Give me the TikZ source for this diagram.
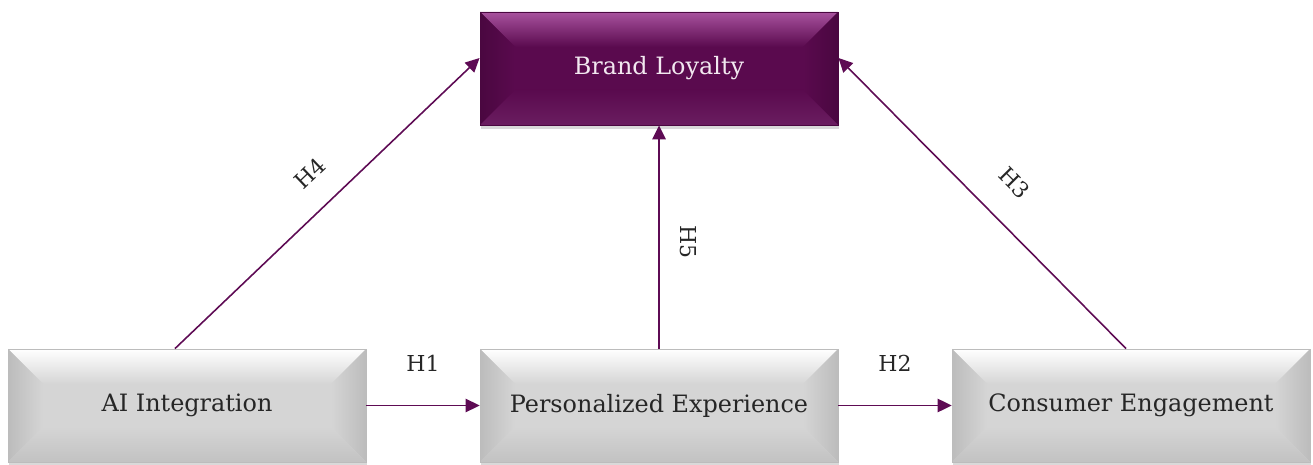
\documentclass[tikz,border=0pt]{standalone}
\usepackage{fontspec}
\setmainfont{DejaVu Serif}
\usetikzlibrary{arrows.meta,calc,shadows}
\definecolor{plum}{HTML}{5A0A4E}
\definecolor{plumtop}{HTML}{A8529E}
\definecolor{plumside}{HTML}{4A0740}
\definecolor{plumlow}{HTML}{6A1D60}
\definecolor{link}{HTML}{5E0B54}
\definecolor{grayface}{HTML}{D5D5D5}
\definecolor{grayside}{HTML}{BCBCBC}
\definecolor{graylow}{HTML}{C2C2C2}
\definecolor{txt}{HTML}{262626}
\definecolor{ptxt}{HTML}{F2E8F0}
\newcommand{\bv}{0.7cm}
\tikzset{
  bevel/.style n args={4}{% top, side, low, face
    rectangle, minimum width=7.16cm, minimum height=2.26cm, inner sep=0pt,
    fill=#4, draw=#2, line width=0.5pt,
    drop shadow={shadow xshift=0.02cm, shadow yshift=-0.08cm, opacity=0.3},
    path picture={
      \coordinate (a) at (path picture bounding box.north west);
      \coordinate (b) at (path picture bounding box.north east);
      \coordinate (c) at (path picture bounding box.south east);
      \coordinate (d) at (path picture bounding box.south west);
      \shade[top color=#1, bottom color=#4] (a) -- (b) -- ($(b)+(-\bv,-\bv)$) -- ($(a)+(\bv,-\bv)$) -- cycle;
      \shade[left color=#2, right color=#4] (a) -- ($(a)+(\bv,-\bv)$) -- ($(d)+(\bv,\bv)$) -- (d) -- cycle;
      \shade[left color=#4, right color=#2] (b) -- ($(b)+(-\bv,-\bv)$) -- ($(c)+(-\bv,\bv)$) -- (c) -- cycle;
      \shade[top color=#4, bottom color=#3] (d) -- ($(d)+(\bv,\bv)$) -- ($(c)+(-\bv,\bv)$) -- (c) -- cycle;
    }},
  graybox/.style={bevel={white}{grayside}{graylow}{grayface}, text=txt, font=\fontsize{13.6}{16}\selectfont},
  plumbox/.style={bevel={plumtop}{plumside}{plumlow}{plum}, text=ptxt, font=\fontsize{13.6}{16}\selectfont},
  arr/.style={draw=link, line width=0.9pt, -{Triangle[length=0.28cm, width=0.27cm]}},
  lbl/.style={text=txt, font=\fontsize{12.5}{14}\selectfont},
}
\begin{document}
\begin{tikzpicture}
  \useasboundingbox (0,0) rectangle (26.26,-9.3);

  \node[plumbox] (bl) at (13.18,-1.37) {Brand Loyalty};
  \node[graybox] (ai) at (3.74,-8.11) {AI Integration};
  \node[graybox] (pe) at (13.18,-8.11) {Personalized Experience};
  \node[graybox] (ce) at (22.62,-8.11) {Consumer Engagement};

  \draw[arr] (ai.east) -- (pe.west) node[lbl, midway, above=0.55cm] {H1};
  \draw[arr] (pe.east) -- (ce.west) node[lbl, midway, above=0.55cm] {H2};
  \draw[arr] ([xshift=-0.24cm]ai.north) -- ([yshift=0.21cm]bl.west)
    node[lbl, pos=0.52, sloped, above=0.38cm] {H4};
  \draw[arr] ([xshift=-0.1cm]ce.north) -- ([yshift=0.21cm]bl.east)
    node[lbl, pos=0.48, sloped, above=0.45cm] {H3};
  \draw[arr] (pe.north) -- (bl.south);
  \node[lbl, rotate=-90] (h5) at ($(pe.north)!0.5!(bl.south)+(0.58,-0.1)$) {H5};
\end{tikzpicture}
\end{document}
